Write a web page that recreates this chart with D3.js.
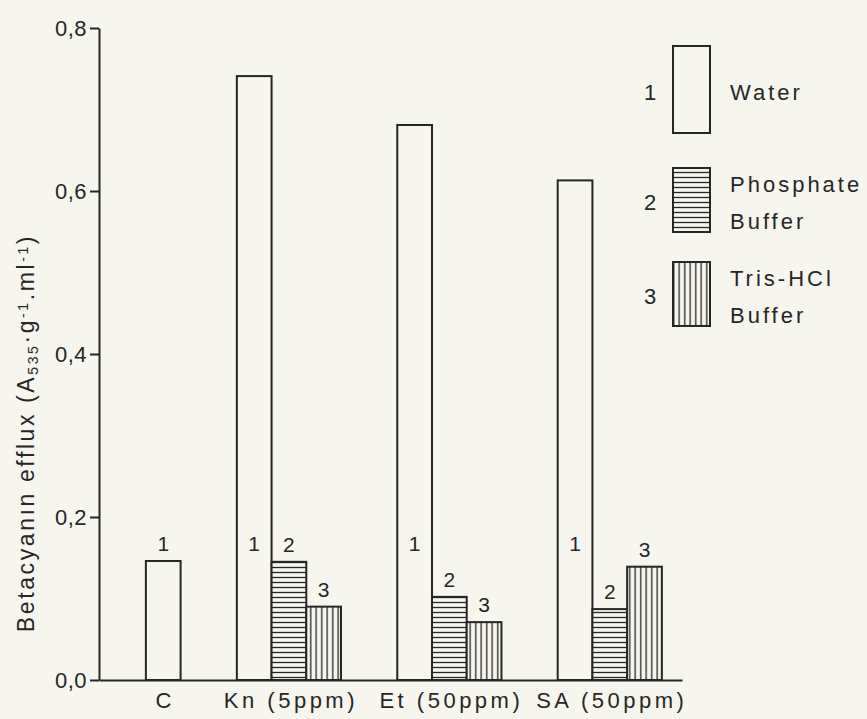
<!DOCTYPE html>
<html>
<head>
<meta charset="utf-8">
<script src="https://cdn.jsdelivr.net/npm/d3@7"></script>
<style>
  html, body { margin: 0; padding: 0; background: #f6f5ee; }
  svg { display: block; }
  text { font-family: "Liberation Sans", Arial, sans-serif; fill: #262626; }
</style>
</head>
<body>
<div id="chart"></div>
<script>
// categories and series
var groups = ["C", "Kn (5ppm)", "Et (50ppm)", "SA (50ppm)"];
var seriesNames = ["Water", "Phosphate Buffer", "Tris-HCl Buffer"];
var seriesNums = ["1", "2", "3"];

var water     = [0.146, 0.741, 0.681, 0.613];
var phosphate = [null,  0.145, 0.102, 0.087];
var tris      = [null,  0.090, 0.071, 0.139];

var yTicks = [0, 0.2, 0.4, 0.6, 0.8];

// chart size
var width = 867, height = 719;
var ink = "#262626";
var paper = "#f6f5ee";

var svg = d3.select("#chart").append("svg")
    .attr("width", width)
    .attr("height", height);

// hatch patterns
var defs = svg.append("defs");
var hp = defs.append("pattern")
    .attr("id", "hatchH")
    .attr("patternUnits", "userSpaceOnUse")
    .attr("width", 10).attr("height", 5);
hp.append("rect").attr("width", 10).attr("height", 5).attr("fill", paper);
hp.append("line").attr("x1", 0).attr("x2", 10).attr("y1", 2.5).attr("y2", 2.5)
    .attr("stroke", ink).attr("stroke-width", 1.3);

var vp = defs.append("pattern")
    .attr("id", "hatchV")
    .attr("patternUnits", "userSpaceOnUse")
    .attr("width", 5.5).attr("height", 10);
vp.append("rect").attr("width", 5.5).attr("height", 10).attr("fill", paper);
vp.append("line").attr("y1", 0).attr("y2", 10).attr("x1", 2.7).attr("x2", 2.7)
    .attr("stroke", ink).attr("stroke-width", 1.3);

var fills = [paper, "url(#hatchH)", "url(#hatchV)"];

// build rows: one per group, bars only where a value exists
var table = groups.map(function(g, i) {
    var vals = [water[i], phosphate[i], tris[i]];
    var bars = [];
    vals.forEach(function(v, s) {
        if (v !== null) bars.push({ group: i, series: s, value: v });
    });
    return { name: g, bars: bars };
});

// x layout in bar-width units: leading space, groups separated by gaps
var lead = 1.35, gap = 1.62, tail = 0.58;
var pos = lead;
table.forEach(function(g, i) {
    g.start = pos;
    g.bars.forEach(function(b, k) { b.slot = pos + k; });
    pos += g.bars.length + (i < table.length - 1 ? gap : tail);
});
var total = pos;

var x = d3.scaleLinear().domain([0, total]).range([99, 682]);
var y = d3.scaleLinear().domain([0, 0.8]).range([680, 28]);

// y axis
var yAxis = d3.axisLeft(y)
    .tickValues(yTicks)
    .tickSize(9)
    .tickSizeOuter(0)
    .tickPadding(3)
    .tickFormat(function(d) { return d3.format(".1f")(d).replace(".", ","); });

var gy = svg.append("g")
    .attr("transform", "translate(" + x(0) + ",0)")
    .call(yAxis);
gy.select(".domain").attr("stroke", ink).attr("stroke-width", 2);
gy.selectAll(".tick line").attr("stroke", ink).attr("stroke-width", 2);
gy.selectAll(".tick text")
    .style("font-size", "22px")
    .style("letter-spacing", "0.5px")
    .attr("fill", ink);

// bars
var bars = [];
table.forEach(function(g) { bars = bars.concat(g.bars); });

svg.append("g").selectAll("rect")
    .data(bars)
    .enter().append("rect")
    .attr("x", function(d) { return x(d.slot); })
    .attr("y", function(d) { return y(d.value); })
    .attr("width", function(d) { return x(d.slot + 1) - x(d.slot); })
    .attr("height", function(d) { return y(0) - y(d.value); })
    .attr("fill", function(d) { return fills[d.series]; })
    .attr("stroke", ink)
    .attr("stroke-width", 2);

// x axis line
var xAxis = d3.axisBottom(x).tickValues([]).tickSizeOuter(0);
var gx = svg.append("g")
    .attr("transform", "translate(0," + y(0) + ")")
    .call(xAxis);
gx.select(".domain").attr("stroke", ink).attr("stroke-width", 2);

// series numbers over bars (tall bars get theirs low down)
var labelCap = water[0];
svg.append("g").selectAll("text")
    .data(bars)
    .enter().append("text")
    .attr("x", function(d) { return x(d.slot + 0.5); })
    .attr("y", function(d) { return y(Math.min(d.value, labelCap)) - 10; })
    .attr("text-anchor", "middle")
    .style("font-size", "21px")
    .text(function(d) { return seriesNums[d.series]; });

// group labels
svg.append("g").selectAll("text")
    .data(table)
    .enter().append("text")
    .attr("x", function(d) { return x(d.start + d.bars.length / 2) + 2; })
    .attr("y", 708)
    .attr("text-anchor", "middle")
    .style("font-size", "22px")
    .style("letter-spacing", "3.5px")
    .text(function(d) { return d.name; });

// y title
var title = svg.append("text")
    .attr("transform", "translate(34,433) rotate(-90)")
    .attr("text-anchor", "middle")
    .style("font-size", "23px")
    .style("letter-spacing", "2.6px");
title.append("tspan").text("Betacyanın efflux (A");
title.append("tspan").attr("baseline-shift", "-30%").style("font-size", "14px").text("535");
title.append("tspan").text("·g");
title.append("tspan").attr("baseline-shift", "40%").style("font-size", "14px").text("-1");
title.append("tspan").text(".ml");
title.append("tspan").attr("baseline-shift", "40%").style("font-size", "14px").text("-1");
title.append("tspan").text(")");

// legend
var legendBoxes = [
    { top: 46, bottom: 133 },
    { top: 168, bottom: 232 },
    { top: 262, bottom: 326 }
];
var legendText = [["Water"], ["Phosphate", "Buffer"], ["Tris-HCl", "Buffer"]];

var lg = svg.append("g").selectAll("g")
    .data(seriesNames)
    .enter().append("g");

lg.append("rect")
    .attr("x", 673)
    .attr("y", function(d, i) { return legendBoxes[i].top; })
    .attr("width", 37)
    .attr("height", function(d, i) { return legendBoxes[i].bottom - legendBoxes[i].top; })
    .attr("fill", function(d, i) { return fills[i]; })
    .attr("stroke", ink)
    .attr("stroke-width", 2);

lg.append("text")
    .attr("x", 650)
    .attr("y", function(d, i) { return (legendBoxes[i].top + legendBoxes[i].bottom) / 2 + 10; })
    .attr("text-anchor", "middle")
    .style("font-size", "22px")
    .text(function(d, i) { return seriesNums[i]; });

lg.each(function(d, i) {
    var lines = legendText[i];
    var mid = (legendBoxes[i].top + legendBoxes[i].bottom) / 2;
    var t = d3.select(this).append("text")
        .attr("x", 730)
        .style("font-size", "22px")
        .style("letter-spacing", "3px");
    lines.forEach(function(s, k) {
        t.append("tspan")
            .attr("x", 730)
            .attr("y", mid + 10 + (k - (lines.length - 1) / 2) * 37)
            .text(s);
    });
});
</script>
</body>
</html>
